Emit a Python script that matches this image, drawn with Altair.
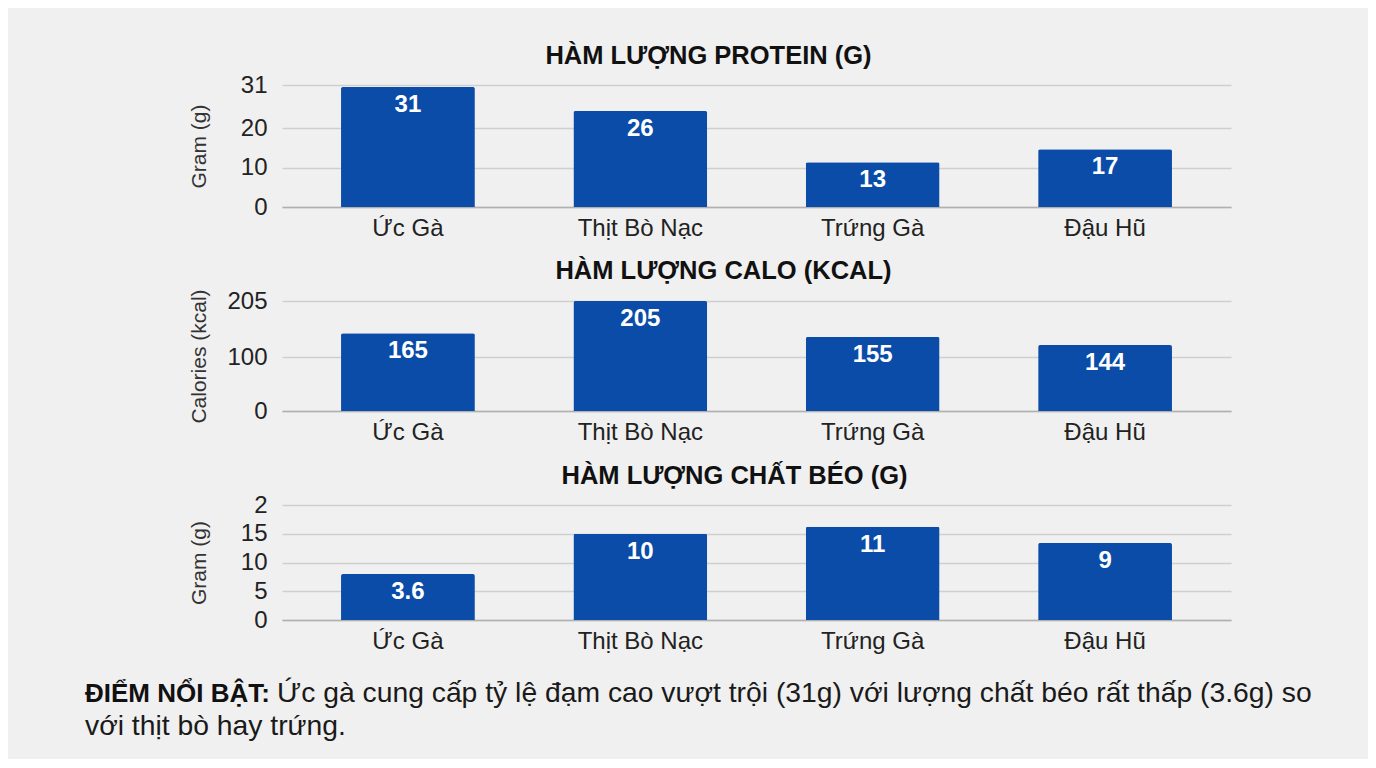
import altair as alt
import pandas as pd

FONT = "Liberation Sans"

foods = ["Ức Gà", "Thịt Bò Nạc", "Trứng Gà", "Đậu Hũ"]

# labels printed on the bars
protein_labels = ["31", "26", "13", "17"]
calo_labels = ["165", "205", "155", "144"]
fat_labels = ["3.6", "10", "11", "9"]

# bar heights as drawn in the picture (read against each axis)
protein_bars = [30.5, 24.4, 11.4, 14.7]
calo_bars = [145, 205, 138, 123]
fat_bars = [8.0, 15.0, 16.2, 13.4]

protein_ticks = [0, 10, 20, 31]
protein_tick_text = ["0", "10", "20", "31"]
calo_ticks = [0, 100, 205]
calo_tick_text = ["0", "100", "205"]
fat_ticks = [0, 5, 10, 15, 20]
fat_tick_text = ["0", "5", "10", "15", "2"]

titles = ["HÀM LƯỢNG PROTEIN (G)", "HÀM LƯỢNG CALO (KCAL)", "HÀM LƯỢNG CHẤT BÉO (G)"]
y_titles = ["Gram (g)", "Calories (kcal)", "Gram (g)"]

note_bold = "ĐIỂM NỔI BẬT:"
note_line1 = "Ức gà cung cấp tỷ lệ đạm cao vượt trội (31g) với lượng chất béo rất thấp (3.6g) so"
note_line2 = "với thịt bò hay trứng."

BAR = "#0b4ca8"
BG = "#f0f0f0"


def label_expr(ticks, texts):
    expr = "datum.label"
    for t, s in zip(ticks, texts):
        expr = f"datum.value == {t} ? '{s}' : ({expr})"
    return expr


def panel(title, ytitle, bars, labels, domain, ticks, tick_text, height, title_dx):
    df = pd.DataFrame({"food": foods, "value": bars, "label": labels})
    base = alt.Chart(df).encode(
        x=alt.X(
            "food:N",
            sort=foods,
            scale=alt.Scale(paddingInner=0.424, paddingOuter=0.254),
            axis=alt.Axis(
                title=None, labelAngle=0, labelFontSize=24, labelColor="#222",
                labelFont=FONT, labelPadding=9, ticks=False, domain=True,
                domainColor="#b0b0b0", domainWidth=1.5,
            ),
        ),
        y=alt.Y(
            "value:Q",
            scale=alt.Scale(domain=domain, nice=False, zero=True),
            axis=alt.Axis(
                values=ticks, labelExpr=label_expr(ticks, tick_text),
                title=ytitle, titleFont=FONT, titleFontSize=21, titleFontWeight="normal",
                titleColor="#333", titleX=-83, titleY=height / 2, titleAngle=-90,
                titleAlign="center", titleBaseline="middle",
                labelFontSize=24, labelColor="#222", labelFont=FONT, labelPadding=15,
                ticks=False, domain=False, grid=True, gridColor="#cfcfcf", gridWidth=1.5,
            ),
        ),
    )
    b = base.mark_bar(color=BAR, cornerRadiusTopLeft=2, cornerRadiusTopRight=2)
    t = base.mark_text(
        color="white", font=FONT, fontSize=24, fontWeight="bold", dy=18, baseline="middle"
    ).encode(text="label:N")
    return (b + t).properties(
        width=949,
        height=height,
        title=alt.TitleParams(
            text=title, font=FONT, fontSize=25.5, fontWeight="bold", color="#111",
            anchor="middle", dx=title_dx, offset=4,
        ),
    )


p1 = panel(titles[0], y_titles[0], protein_bars, protein_labels, [0, 31],
           protein_ticks, protein_tick_text, 122, -48)
p2 = panel(titles[1], y_titles[1], calo_bars, calo_labels, [0, 205],
           calo_ticks, calo_tick_text, 110, -33)
p3 = panel(titles[2], y_titles[2], fat_bars, fat_labels, [0, 20],
           fat_ticks, fat_tick_text, 115, -22)

note_df = pd.DataFrame({"bold": [note_bold], "l1": [note_line1], "l2": [note_line2]})
nb = alt.Chart(note_df).mark_text(
    font=FONT, fontSize=26, fontWeight="bold", color="#111", align="left", baseline="middle"
).encode(x=alt.value(-197), y=alt.value(22), text="bold:N")
n1 = alt.Chart(note_df).mark_text(
    font=FONT, fontSize=28.3, color="#1a1a1a", align="left", baseline="middle"
).encode(x=alt.value(-5), y=alt.value(22), text="l1:N")
n2 = alt.Chart(note_df).mark_text(
    font=FONT, fontSize=28.3, color="#1a1a1a", align="left", baseline="middle"
).encode(x=alt.value(-197), y=alt.value(55), text="l2:N")
note = (nb + n1 + n2).properties(width=949, height=70)

chart = (
    alt.vconcat(p1, p2, p3, note, spacing=19)
    .properties(background=BG, padding={"left": 77, "top": 35, "right": 56, "bottom": 17})
    .configure_view(stroke=None)
)

chart.save("out.html", embed_options={"renderer": "svg", "actions": False})
